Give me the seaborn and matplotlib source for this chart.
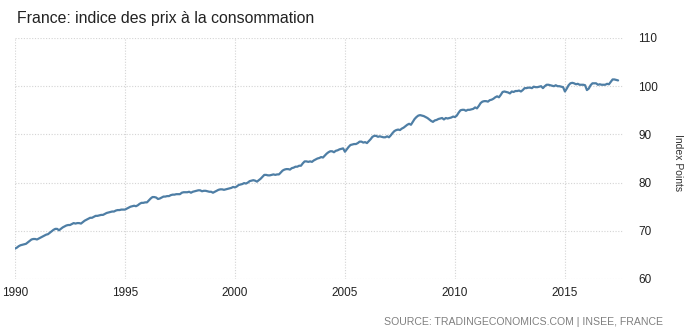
import numpy as np
import pandas as pd
import matplotlib
matplotlib.use("Agg")
import matplotlib.pyplot as plt
from matplotlib import font_manager
import seaborn as sns

# Monthly CPI values (index points), Jan 1990 .. Jun 2017
cpi_by_year = {
    1990: [66.3, 66.5, 66.8, 67.0, 67.1, 67.2, 67.3, 67.6, 67.9, 68.2, 68.3, 68.3],
    1991: [68.2, 68.4, 68.6, 68.8, 69.0, 69.2, 69.3, 69.6, 69.9, 70.2, 70.4, 70.4],
    1992: [70.1, 70.4, 70.7, 70.9, 71.1, 71.2, 71.2, 71.4, 71.6, 71.5, 71.6, 71.6],
    1993: [71.5, 71.8, 72.1, 72.3, 72.5, 72.7, 72.7, 72.9, 73.1, 73.1, 73.2, 73.3],
    1994: [73.3, 73.5, 73.7, 73.8, 73.9, 74.0, 74.0, 74.2, 74.3, 74.3, 74.4, 74.4],
    1995: [74.4, 74.6, 74.8, 75.0, 75.1, 75.2, 75.1, 75.3, 75.6, 75.8, 75.8, 75.9],
    1996: [75.9, 76.3, 76.7, 77.0, 77.0, 76.9, 76.6, 76.7, 76.9, 77.1, 77.1, 77.2],
    1997: [77.2, 77.4, 77.5, 77.5, 77.6, 77.6, 77.6, 77.9, 78.0, 78.0, 78.0, 78.1],
    1998: [77.9, 78.1, 78.2, 78.3, 78.4, 78.4, 78.2, 78.3, 78.3, 78.2, 78.1, 78.1],
    1999: [77.9, 78.1, 78.3, 78.5, 78.6, 78.6, 78.5, 78.6, 78.7, 78.8, 78.9, 79.1],
    2000: [79.0, 79.2, 79.5, 79.6, 79.7, 79.9, 79.8, 80.0, 80.3, 80.4, 80.5, 80.4],
    2001: [80.2, 80.5, 80.8, 81.2, 81.6, 81.6, 81.5, 81.5, 81.6, 81.7, 81.6, 81.7],
    2002: [81.7, 82.1, 82.5, 82.7, 82.8, 82.8, 82.7, 83.0, 83.1, 83.3, 83.3, 83.5],
    2003: [83.5, 84.0, 84.4, 84.4, 84.3, 84.4, 84.3, 84.6, 84.8, 85.0, 85.1, 85.3],
    2004: [85.2, 85.6, 86.0, 86.3, 86.5, 86.5, 86.3, 86.6, 86.7, 86.9, 87.0, 87.1],
    2005: [86.4, 86.9, 87.4, 87.8, 87.9, 88.0, 88.0, 88.2, 88.5, 88.5, 88.3, 88.4],
    2006: [88.2, 88.6, 89.0, 89.5, 89.7, 89.7, 89.5, 89.6, 89.5, 89.4, 89.4, 89.6],
    2007: [89.4, 89.8, 90.3, 90.7, 90.9, 91.0, 90.9, 91.2, 91.4, 91.7, 92.0, 92.2],
    2008: [92.0, 92.6, 93.2, 93.6, 93.9, 94.0, 93.9, 93.8, 93.6, 93.4, 93.1, 92.8],
    2009: [92.6, 92.9, 93.0, 93.2, 93.3, 93.4, 93.1, 93.4, 93.3, 93.4, 93.5, 93.7],
    2010: [93.6, 93.9, 94.5, 95.0, 95.1, 95.1, 94.9, 95.1, 95.1, 95.2, 95.3, 95.6],
    2011: [95.4, 95.9, 96.5, 96.8, 96.9, 96.9, 96.8, 97.1, 97.2, 97.4, 97.7, 97.9],
    2012: [97.7, 98.2, 98.8, 98.9, 98.8, 98.7, 98.5, 98.9, 98.8, 99.0, 99.0, 99.1],
    2013: [98.9, 99.2, 99.6, 99.6, 99.7, 99.7, 99.6, 99.9, 99.8, 99.8, 99.9, 100.0],
    2014: [99.6, 100.0, 100.3, 100.3, 100.2, 100.1, 100.0, 100.2, 100.0, 100.0, 99.9, 99.8],
    2015: [98.9, 99.5, 100.2, 100.6, 100.7, 100.6, 100.4, 100.5, 100.3, 100.3, 100.3, 100.2],
    2016: [99.2, 99.5, 100.2, 100.6, 100.6, 100.6, 100.3, 100.4, 100.3, 100.3, 100.3, 100.5],
    2017: [100.4, 100.9, 101.4, 101.4, 101.3, 101.2],
}

x_ticks = [1990, 1995, 2000, 2005, 2010, 2015]
y_ticks = [60, 70, 80, 90, 100, 110]

title = "France: indice des prix à la consommation"
y_label = "Index Points"
source = "SOURCE: TRADINGECONOMICS.COM | INSEE, FRANCE"

rows = []
for yr, vals in cpi_by_year.items():
    for m, v in enumerate(vals):
        rows.append({"date": yr + m / 12.0, "cpi": v})
df = pd.DataFrame(rows)

installed = {f.name for f in font_manager.fontManager.ttflist}
narrow = "Liberation Sans Narrow" if "Liberation Sans Narrow" in installed else "Liberation Sans"
tick_font = [narrow, "DejaVu Sans"]

sns.set_theme(style="white")
plt.rcParams["font.family"] = tick_font

fig = plt.figure(figsize=(6.86, 3.30), dpi=100)
ax = fig.add_axes([15 / 686, 51 / 330, 608 / 686, 241 / 330])

sns.lineplot(data=df, x="date", y="cpi", ax=ax, color="#4e7ea5", linewidth=1.6)

ax.set_xlim(1990, 2017.64)
ax.set_ylim(60, 110)
ax.set_xticks(x_ticks)
ax.set_xticklabels([str(t) for t in x_ticks], fontdict={"family": tick_font, "size": 8.5})
ax.set_yticks(y_ticks)
ax.set_yticklabels([str(t) for t in y_ticks], fontdict={"family": tick_font, "size": 8.5})
ax.yaxis.tick_right()
ax.yaxis.set_label_position("right")
ax.tick_params(axis="both", length=0, colors="#222222")
ax.tick_params(axis="y", pad=11)
ax.tick_params(axis="x", pad=6)

ax.grid(True, color="#d4d4d4", linestyle=(0, (1, 1.5)), linewidth=0.8)
for s in ax.spines.values():
    s.set_visible(False)
ax.set_xlabel("")
ax.set_ylabel("")

fig.text(678 / 686, 1 - 163 / 330, y_label, rotation=-90, ha="center", va="center",
         fontsize=7.5, color="#333333", family=tick_font)
fig.text(17 / 686, 1 - 18 / 330, title, ha="left", va="center",
         fontsize=11.4, color="#222222", family=["Liberation Sans", "DejaVu Sans"])
fig.text(663 / 686, 1 - 322 / 330, source, ha="right", va="center",
         fontsize=7.6, color="#808080", family=tick_font)

fig.savefig("out.png", dpi=100)
